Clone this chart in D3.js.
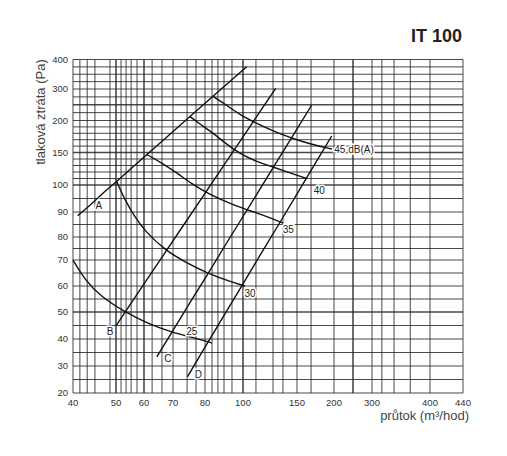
<!DOCTYPE html>
<html><head><meta charset="utf-8">
<script src="https://cdn.jsdelivr.net/npm/d3@7"></script>
<style>body{margin:0;background:#fff}text{font-family:"Liberation Sans",Arial,sans-serif}</style>
</head><body>
<svg id="c" width="507" height="456"></svg>
<script>
// ---- data ----
const title = "IT 100";
const xLabel = "průtok (m³/hod)";
const yLabel = "tlaková ztráta (Pa)";
const xTicks = [40,50,60,70,80,100,150,200,300,400,440];
const yTicks = [20,30,40,50,60,70,80,90,100,150,200,300,400];
const xGrid = [40,41.6,43.3,45.1,48.6,50,51.8,53.6,55.4,57.5,60,62.8,66.2,70,74.4,77.2,80,83.7,86.8,90,94.2,100,112,127.8,137,150,169,200,250,300,317,338,366,400,440];
const yGrid = [20,25,30,35,40,45,50,55,60,65,70,75,80,85,90,95,100,110,120,130,140,150,160,170,180,190,200,225,250,275,300,325,350,375,400];
const xGridBold = [50,60,100,250];
const yGridBold = [50,100,150,250];

const lineA = [[41.1,88.5],[44.0,92.6],[47.4,97.6],[50.2,105.4],[55,123.7],[61.0,146.8],[67.2,171.6],[75.3,212.4],[84.2,276.8],[93.2,326.1],[103.4,375.6]];
const lineB = [[50,44.9],[53.2,49.9],[60.3,61.3],[67.2,73.1],[73.75,85.6],[80,96.9],[90.5,132.9],[101.9,179.1],[115.7,228.3],[130.3,302.4]];
const lineC = [[64.4,33.4],[69.7,42.6],[75.3,53.6],[81.1,64.2],[90.5,76.2],[100,88.2],[115.7,98.5],[129.6,131.4],[143.5,169.1],[169.9,249.2]];
const lineD = [[74.5,26.0],[80,37.0],[90.5,49.3],[100,60.8],[115.7,72.0],[134.3,85.9],[154.1,98.6],[174.3,132.6],[196.9,175.8]];
const db25 = [[40,70],[42.8,62.3],[46.3,56.2],[53.2,50],[61.0,45.9],[69.7,42.4],[76.9,40.4],[83.7,38.5]];
const db30 = [[50.2,105.6],[53.2,94.4],[56.8,88],[60.3,82.4],[67.2,74.3],[74.4,68.8],[81.1,65],[93.2,61.7],[101.9,60]];
const db35 = [[61.0,146.8],[66.2,133.8],[71.3,118.5],[75.9,101.5],[81.1,97.0],[94.7,92.6],[113,89.6],[127.8,87.2],[137,85.6]];
const db40 = [[75.3,212.4],[78.4,194.5],[84.2,180.5],[90.5,164.8],[98.4,148],[111.1,136.9],[127.8,127.7],[143.5,118.5],[163.5,110]];
const db45 = [[84.2,276.8],[90.5,252.4],[98.4,217.5],[115.7,193],[134.3,178.9],[154.1,168],[181.1,159.4],[197.3,155.5]];
const straightLines = [lineA,lineB,lineC,lineD];
const dbCurves = [db25,db30,db35,db40,db45];
const labelText = ["A","B","C","D","25","30","35","40","45 dB(A)"];
const labelX = [46.0,48.6,68.2,77.9,75.9,106.5,141.9,180.1,200.8];
const labelY = [92.3,42.7,32.9,27.0,42.7,57.2,83.2,97.8,155];

// ---- scales (hand-drawn, piecewise axes) ----
const x = d3.scaleLinear().domain(xTicks).range([73,116,144,173,205,243,297,334,372,430,463]);
const y = d3.scaleLinear().domain(yTicks).range([393,366,339,312,286,260,237,212,185,152.5,120.5,89,59.5]);

const svg = d3.select("#c");
svg.append("rect").attr("width",507).attr("height",456).attr("fill","#fff");

const g = svg.append("g");
// grid
g.selectAll(".vg").data(xGrid).enter().append("line")
  .attr("x1",d=>x(d)).attr("x2",d=>x(d)).attr("y1",y(20)).attr("y2",y(400))
  .attr("stroke","#222").attr("stroke-width",d=>xGridBold.includes(d)?1.6:1).attr("opacity",0.82);
g.selectAll(".hg").data(yGrid).enter().append("line")
  .attr("y1",d=>y(d)).attr("y2",d=>y(d)).attr("x1",x(40)).attr("x2",x(440))
  .attr("stroke","#222").attr("stroke-width",d=>yGridBold.includes(d)?1.6:1).attr("opacity",0.82);

// curves
const straight = d3.line().x(d=>x(d[0])).y(d=>y(d[1]));
const smooth = d3.line().x(d=>x(d[0])).y(d=>y(d[1])).curve(d3.curveBasis);
g.selectAll(".sl").data(straightLines).enter().append("path")
  .attr("d",straight).attr("fill","none").attr("stroke","#111").attr("stroke-width",1.4);
g.selectAll(".db").data(dbCurves).enter().append("path")
  .attr("d",smooth).attr("fill","none").attr("stroke","#111").attr("stroke-width",1.4);

// labels
const lab = g.selectAll(".lab").data(labelText).enter().append("g");
lab.append("text")
  .attr("x",(d,i)=>x(labelX[i])).attr("y",(d,i)=>y(labelY[i])).attr("dy","0.35em")
  .attr("text-anchor",(d,i)=>i===8?"start":"middle")
  .attr("font-size",10).attr("fill","#222")
  .attr("stroke","#fff").attr("stroke-width",3).attr("paint-order","stroke")
  .text(d=>d);

// axes tick labels
svg.selectAll(".xt").data(xTicks).enter().append("text")
  .attr("x",d=>x(d)).attr("y",y(20)+13).attr("text-anchor","middle")
  .attr("font-size",9.5).attr("fill","#333").text(d=>d);
svg.selectAll(".yt").data(yTicks).enter().append("text")
  .attr("x",x(40)-5).attr("y",d=>y(d)).attr("dy","0.35em").attr("text-anchor","end")
  .attr("font-size",9.5).attr("fill","#333").text(d=>d);

svg.append("text").attr("transform","translate(45,112) rotate(-90)").attr("text-anchor","middle")
  .attr("font-size",13).attr("fill","#444").text(yLabel);
svg.append("text").attr("x",469).attr("y",420).attr("text-anchor","end")
  .attr("font-size",13).attr("fill","#444").text(xLabel);
svg.append("text").attr("x",411).attr("y",42).attr("font-size",18).attr("font-weight","bold")
  .attr("fill","#222").text(title);
</script>
</body></html>
